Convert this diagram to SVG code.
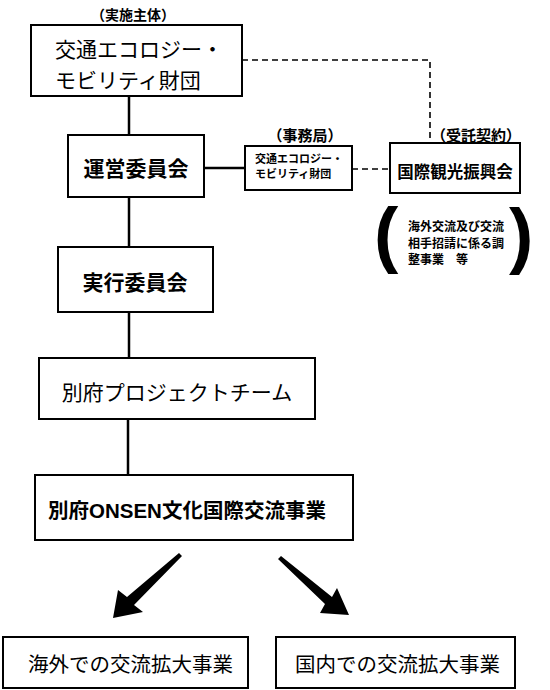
<svg xmlns="http://www.w3.org/2000/svg" width="550" height="690" viewBox="0 0 550 690">
<style>
text{font-family:"Noto Sans CJK JP","Noto Sans",sans-serif;fill:#000}
.box{fill:#fff;stroke:#000;stroke-width:2}
.line{stroke:#000;stroke-width:2.5;fill:none}
.dash{stroke:#000;stroke-width:1.6;fill:none;stroke-dasharray:6 4}
.b{font-weight:bold}
.lat{font-family:"Liberation Sans","Noto Sans CJK JP",sans-serif}
.paren{font-family:"Liberation Sans",sans-serif;font-weight:bold}
</style>
<rect width="550" height="690" fill="#fff"/>
<g id="connectors">
<line class="line" x1="129" y1="96" x2="129" y2="135"/>
<line class="line" x1="129" y1="197" x2="129" y2="247"/>
<line class="line" x1="129" y1="312" x2="129" y2="358"/>
<line class="line" x1="128" y1="419" x2="128" y2="475"/>
<line class="line" x1="204" y1="168" x2="245" y2="168"/>
<polyline class="dash" points="242,60 430,60 430,143"/>
<line class="dash" x1="352" y1="169" x2="390" y2="169"/>
<polygon points="179,553 182,556 134,605 143,612 113,618 118,590 127,597" fill="#000"/>
<polygon points="281,556 332,597 337,588 349,615 320,613 325,604 278,559" fill="#000"/>
</g>
<g id="label-jisshi"><text class="b" x="133" y="20" font-size="14" text-anchor="middle">（実施主体）</text></g>
<g id="node-zaidan">
<rect class="box" x="31" y="25" width="211" height="71"/>
<text x="55" y="57" font-size="21">交通エコロジー・</text>
<text x="55" y="88" font-size="21">モビリティ財団</text>
</g>
<g id="node-unei">
<rect class="box" x="68" y="135" width="136" height="62"/>
<text class="b" x="136" y="176" font-size="21" text-anchor="middle">運営委員会</text>
</g>
<g id="label-jimukyoku"><text class="b" x="305" y="141" font-size="15" text-anchor="middle">（事務局）</text></g>
<g id="node-jimukyoku">
<rect class="box" x="245" y="146" width="107" height="44"/>
<text class="b" x="255" y="163" font-size="11">交通エコロジー・</text>
<text class="b" x="255" y="178" font-size="11">モビリティ財団</text>
</g>
<g id="label-jutaku"><text class="b" x="476" y="141" font-size="15" text-anchor="middle">（受託契約）</text></g>
<g id="node-kokusai">
<rect class="box" x="390" y="143" width="130" height="50"/>
<text class="b" x="455" y="178" font-size="16.5" text-anchor="middle">国際観光振興会</text>
</g>
<g id="note-kokusai">
<text class="paren" x="374" y="259" font-size="73">(</text>
<text class="paren" x="509" y="260" font-size="73">)</text>
<text class="b" x="408" y="231" font-size="12">海外交流及び交流</text>
<text class="b" x="408" y="248" font-size="12">相手招請に係る調</text>
<text class="b" x="408" y="264" font-size="12">整事業　等</text>
</g>
<g id="node-jikko">
<rect class="box" x="58" y="247" width="155" height="65"/>
<text class="b" x="135" y="290" font-size="21" text-anchor="middle">実行委員会</text>
</g>
<g id="node-pt">
<rect class="box" x="39" y="358" width="276" height="61"/>
<text x="177" y="400" font-size="21" text-anchor="middle">別府プロジェクトチーム</text>
</g>
<g id="node-onsen">
<rect class="box" x="35" y="475" width="318" height="65"/>
<text class="b" x="48" y="518" font-size="20.5">別府<tspan class="lat">ONSEN</tspan>文化国際交流事業</text>
</g>
<g id="node-kaigai">
<rect class="box" x="3" y="637" width="245" height="51"/>
<text x="28" y="672" font-size="20.5">海外での交流拡大事業</text>
</g>
<g id="node-kokunai">
<rect class="box" x="276" y="637" width="239" height="51"/>
<text x="295" y="672" font-size="20.5">国内での交流拡大事業</text>
</g>
</svg>
